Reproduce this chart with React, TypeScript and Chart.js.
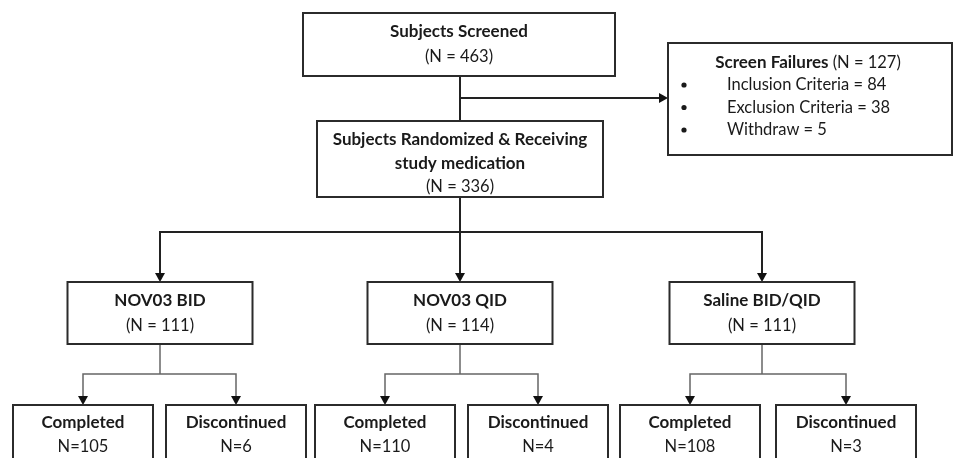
import React, { useEffect, useRef } from "react";
import { Chart, registerables } from "chart.js";

Chart.register(...registerables);

// ---- data ----
const screenedTitle = "Subjects Screened";
const screenedN = 463;
const randomizedTitle = ["Subjects Randomized & Receiving", "study medication"];
const randomizedN = 336;
const failureTitle = "Screen Failures";
const failureTotal = 127;
const failureReasons = ["Inclusion Criteria", "Exclusion Criteria", "Withdraw"];
const failureCounts = [84, 38, 5];
const arms = ["NOV03 BID", "NOV03 QID", "Saline BID/QID"];
const armN = [111, 114, 111];
const completedN = [105, 110, 108];
const discontinuedN = [6, 4, 3];

// ---- layout (scale units) ----
const L = {
  top: { x0: 303, x1: 615, y0: 13, y1: 76 },
  rand: { x0: 317, x1: 603, y0: 121, y1: 197 },
  fail: { x0: 668, x1: 952, y0: 43, y1: 155 },
  branchY: 98,
  trunkX: 460,
  armCx: [160, 460, 762],
  armW: 185,
  armY: [282, 344],
  armBarY: 232,
  childBarY: 374,
  compCx: [83, 385, 690],
  discCx: [236, 538, 846],
  childW: 140,
  childY: [405, 478],
};

const FONT = "Lato, 'Open Sans', sans-serif";
const BOLD = 17;
const REG = 16.5;

const flowPlugin = {
  id: "flow",
  afterDatasetsDraw(chart: any) {
    const ctx: CanvasRenderingContext2D = chart.ctx;
    const sx = chart.scales.x;
    const sy = chart.scales.y;
    const X = (v: number) => sx.getPixelForValue(v);
    const Y = (v: number) => sy.getPixelForValue(v);

    ctx.save();
    const box = (b: { x0: number; x1: number; y0: number; y1: number }) => {
      ctx.strokeStyle = "#2b2b2b";
      ctx.lineWidth = 2;
      ctx.fillStyle = "#fff";
      ctx.fillRect(X(b.x0), Y(b.y0), X(b.x1) - X(b.x0), Y(b.y1) - Y(b.y0));
      ctx.strokeRect(X(b.x0), Y(b.y0), X(b.x1) - X(b.x0), Y(b.y1) - Y(b.y0));
    };
    const line = (pts: number[][], color: string, w: number) => {
      ctx.strokeStyle = color;
      ctx.lineWidth = w;
      ctx.beginPath();
      pts.forEach((p, i) => (i ? ctx.lineTo(X(p[0]), Y(p[1])) : ctx.moveTo(X(p[0]), Y(p[1]))));
      ctx.stroke();
    };
    const arrowDown = (x: number, y: number) => {
      ctx.fillStyle = "#111";
      ctx.beginPath();
      ctx.moveTo(X(x), Y(y));
      ctx.lineTo(X(x) - 5, Y(y) - 9);
      ctx.lineTo(X(x) + 5, Y(y) - 9);
      ctx.closePath();
      ctx.fill();
    };
    const arrowRight = (x: number, y: number) => {
      ctx.fillStyle = "#111";
      ctx.beginPath();
      ctx.moveTo(X(x), Y(y));
      ctx.lineTo(X(x) - 9, Y(y) - 5);
      ctx.lineTo(X(x) + -9, Y(y) + 5);
      ctx.closePath();
      ctx.fill();
    };
    const text = (s: string, cx: number, y: number, bold: boolean, align: CanvasTextAlign = "center") => {
      ctx.fillStyle = "#1a1a1a";
      ctx.font = bold ? `bold ${BOLD}px ${FONT}` : `${REG}px ${FONT}`;
      ctx.textAlign = align;
      ctx.textBaseline = "middle";
      ctx.fillText(s, X(cx), Y(y));
    };

    // connectors
    line([[L.trunkX, L.top.y1], [L.trunkX, L.rand.y0]], "#222", 2);
    line([[L.trunkX, L.branchY], [L.fail.x0 - 9, L.branchY]], "#222", 2);
    arrowRight(L.fail.x0, L.branchY);
    line([[L.trunkX, L.rand.y1], [L.trunkX, L.armY[0] - 8]], "#222", 2);
    line([[L.armCx[0], L.armY[0] - 8], [L.armCx[0], L.armBarY], [L.armCx[2], L.armBarY], [L.armCx[2], L.armY[0] - 8]], "#222", 2);
    L.armCx.forEach((cx) => arrowDown(cx, L.armY[0]));
    arms.forEach((_, i) => {
      const cx = L.armCx[i];
      line([[cx, L.armY[1]], [cx, L.childBarY]], "#666", 1.5);
      line([[L.compCx[i], L.childY[0] - 8], [L.compCx[i], L.childBarY], [L.discCx[i], L.childBarY], [L.discCx[i], L.childY[0] - 8]], "#666", 1.5);
      arrowDown(L.compCx[i], L.childY[0]);
      arrowDown(L.discCx[i], L.childY[0]);
    });

    // top box
    box(L.top);
    const tcx = (L.top.x0 + L.top.x1) / 2;
    text(screenedTitle, tcx, 32, true);
    text(`(N = ${screenedN})`, tcx, 57, false);

    // randomized box
    box(L.rand);
    const rcx = (L.rand.x0 + L.rand.x1) / 2;
    text(randomizedTitle[0], rcx, 140, true);
    text(randomizedTitle[1], rcx, 164, true);
    text(`(N = ${randomizedN})`, rcx, 187, false);

    // failures box
    box(L.fail);
    ctx.font = `bold ${BOLD}px ${FONT}`;
    const a = failureTitle + " ";
    const wa = ctx.measureText(a).width;
    ctx.font = `${REG}px ${FONT}`;
    const b = `(N = ${failureTotal})`;
    const wb = ctx.measureText(b).width;
    const fcx = 808;
    const start = X(fcx) - (wa + wb) / 2;
    ctx.fillStyle = "#1a1a1a";
    ctx.textBaseline = "middle";
    ctx.textAlign = "left";
    ctx.font = `bold ${BOLD}px ${FONT}`;
    ctx.fillText(a, start, Y(63));
    ctx.font = `${REG}px ${FONT}`;
    ctx.fillText(b, start + wa, Y(63));
    failureReasons.forEach((r, i) => {
      const y = 85 + i * 22.5;
      ctx.beginPath();
      ctx.fillStyle = "#1a1a1a";
      ctx.arc(X(684), Y(y), 2.6, 0, Math.PI * 2);
      ctx.fill();
      text(`${r} = ${failureCounts[i]}`, 727, y, false, "left");
    });

    // arm boxes
    arms.forEach((name, i) => {
      const cx = L.armCx[i];
      box({ x0: cx - L.armW / 2, x1: cx + L.armW / 2, y0: L.armY[0], y1: L.armY[1] });
      text(name, cx, 301, true);
      text(`(N = ${armN[i]})`, cx, 326, false);
      const c = L.compCx[i];
      const d = L.discCx[i];
      box({ x0: c - L.childW / 2, x1: c + L.childW / 2, y0: L.childY[0], y1: L.childY[1] });
      box({ x0: d - L.childW / 2, x1: d + L.childW / 2, y0: L.childY[0], y1: L.childY[1] });
      text("Completed", c, 423, true);
      text(`N=${completedN[i]}`, c, 447, false);
      text("Discontinued", d, 423, true);
      text(`N=${discontinuedN[i]}`, d, 447, false);
    });
    ctx.restore();
  },
};

export default function App() {
  const ref = useRef<HTMLCanvasElement>(null);
  useEffect(() => {
    if (!ref.current) return;
    const chart = new Chart(ref.current, {
      type: "scatter",
      data: {
        datasets: [
          {
            data: L.armCx.map((x, i) => ({ x, y: L.armY[0], n: armN[i] })) as any,
            pointRadius: 0,
          },
        ],
      },
      options: {
        animation: false,
        responsive: false,
        devicePixelRatio: 1,
        layout: { padding: 0 },
        plugins: { legend: { display: false }, tooltip: { enabled: false } },
        scales: {
          x: { type: "linear", min: 0, max: 955, display: false },
          y: { type: "linear", min: 0, max: 458, reverse: true, display: false },
        },
      },
      plugins: [flowPlugin],
    });
    return () => chart.destroy();
  }, []);
  return (
    <div style={{ position: "fixed", left: 0, top: 0, width: 955, height: 458, background: "#fff" }}>
      <canvas ref={ref} width={955} height={458} style={{ width: 955, height: 458 }} />
    </div>
  );
}
